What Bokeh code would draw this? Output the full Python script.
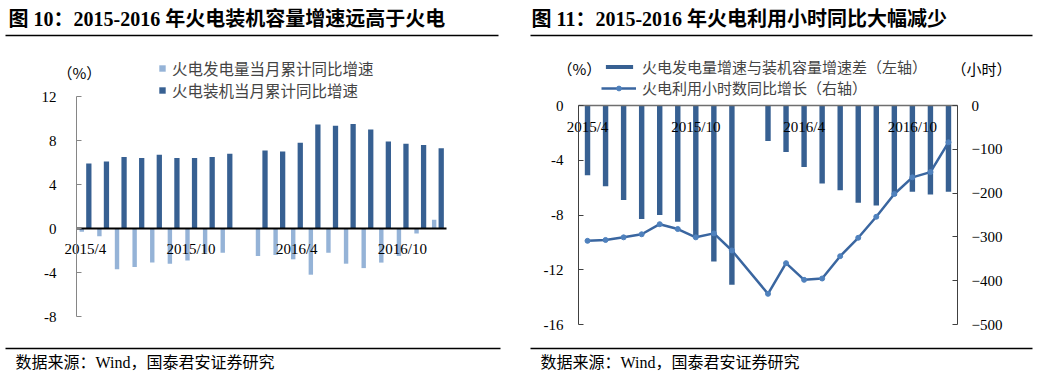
from bokeh.plotting import figure
from bokeh.layouts import row
from bokeh.models import (ColumnDataSource, Range1d, FixedTicker, LinearAxis, Label,
                          BoxAnnotation, Legend, LegendItem)
from bokeh.transform import dodge
from bokeh.embed import file_html
from bokeh.resources import INLINE

# ---------------- data ----------------
months = ["2015/4", "2015/5", "2015/6", "2015/7", "2015/8", "2015/9", "2015/10", "2015/11",
          "2015/12", "2016/1", "2016/2", "2016/3", "2016/4", "2016/5", "2016/6", "2016/7",
          "2016/8", "2016/9", "2016/10", "2016/11", "2016/12"]
tick_months = ["2015/4", "2015/10", "2016/4", "2016/10"]

# Chart 10 (%)
gen_growth = [-0.3, -0.7, -3.7, -3.5, -3.1, -3.2, -2.9, -2.2, -2.2, None, -2.5, -2.4, -2.8,
              -4.2, -2.2, -3.2, -3.6, -3.1, -2.5, -0.45, 0.8]
cap_growth = [5.9, 6.1, 6.5, 6.4, 6.7, 6.4, 6.4, 6.5, 6.8, None, 7.1, 7.0, 7.8, 9.45, 9.35,
              9.5, 9.0, 7.9, 7.7, 7.6, 7.3]

# Chart 11
gap_diff = [-5.1, -5.9, -6.9, -8.3, -8.0, -8.5, -9.6, -11.4, -13.1, None, -2.6, -3.4, -4.5,
            -5.7, -6.2, -7.1, -7.3, -6.6, -6.3, -6.5, -6.3]
hours = [-309, -307, -301, -294, -271, -282, -301, -292, -331, None, -430, -360, -398, -395,
         -344, -302, -254, -202, -164, -152, -84]

left_ticks = [-8, -4, 0, 4, 8, 12]
gap_ticks = [-16, -12, -8, -4, 0]
hour_ticks = [-500, -400, -300, -200, -100, 0]

# ---------------- styles ----------------
DARK = "#376092"
LIGHT = "#95B3D7"
LINE = "#3A66A0"
MARK = "#4F81BD"
NUM = "Liberation Serif"
CJK = "Noto Sans CJK SC"
MIX = "'Liberation Serif', 'Noto Sans CJK SC'"
H = 375

def nan(v):
    return float("nan") if v is None else v

n = len(months)
idx = list(range(n))
src = ColumnDataSource(dict(idx=idx,
                            gen=[nan(v) for v in gen_growth],
                            cap=[nan(v) for v in cap_growth],
                            diff=[nan(v) for v in gap_diff]))
line_src = ColumnDataSource(dict(idx=[i for i, v in zip(idx, hours) if v is not None],
                                 hours=[v for v in hours if v is not None]))
tick_idx = [months.index(m) for m in tick_months]
tick_over = {i: m for i, m in zip(tick_idx, tick_months)}
X0, X1 = -0.5, n - 0.5


def span_range(v0, v1, p0, p1, total):
    """Range so that value v0 sits at pixel p0 and v1 at pixel p1 (pixels from left/bottom)."""
    k = (v1 - v0) / (p1 - p0)
    return Range1d(v0 - p0 * k, v1 + (total - p1) * k)


def base_fig(width, xr, yr):
    p = figure(width=width, height=H, x_range=xr, y_range=yr,
               output_backend="svg", toolbar_location=None,
               min_border=0, min_border_left=0, min_border_right=0,
               min_border_top=0, min_border_bottom=0)
    p.outline_line_color = None
    p.xgrid.grid_line_color = None
    p.ygrid.grid_line_color = None
    p.background_fill_color = "white"
    p.border_fill_color = "white"
    return p


def style_axis(ax, ticks, color, loc, bounds, overrides, standoff):
    ax.fixed_location = loc
    ax.bounds = bounds
    ax.ticker = FixedTicker(ticks=ticks)
    ax.axis_line_color = color
    ax.axis_line_width = 1
    ax.major_tick_line_color = color
    ax.major_tick_in = 5
    ax.major_tick_out = 0
    ax.minor_tick_line_color = None
    ax.major_label_text_font = NUM
    ax.major_label_text_font_size = "15px"
    ax.major_label_text_color = "black"
    ax.major_label_standoff = standoff
    ax.major_label_overrides = overrides


def style_xaxis(ax, color, width, standoff):
    ax.fixed_location = 0
    ax.bounds = (X0, X1)
    ax.ticker = FixedTicker(ticks=tick_idx)
    ax.major_label_overrides = tick_over
    ax.axis_line_color = color
    ax.axis_line_width = width
    ax.major_tick_line_color = None
    ax.minor_tick_line_color = None
    ax.major_label_text_font = NUM
    ax.major_label_text_font_size = "15px"
    ax.major_label_text_color = "black"
    ax.major_label_standoff = standoff


def add_text(p, ox, cx, cy, text, font, size, bold=False, align="left"):
    p.add_layout(Label(x=cx - ox, y=H - cy, x_units="screen", y_units="screen", text=text,
                       text_font=font, text_font_size=size,
                       text_font_style="bold" if bold else "normal",
                       text_baseline="middle", text_align=align, text_color="black"))


def add_rule(p, ox, x1, x2, cy, h=1.5):
    p.add_layout(BoxAnnotation(left=x1 - ox, right=x2 - ox, top=H - cy + h / 2,
                               bottom=H - cy - h / 2, left_units="screen",
                               right_units="screen", top_units="screen",
                               bottom_units="screen", fill_color="black", fill_alpha=1,
                               line_color=None))


def make_legend(items, x, cy_bottom, gw, gh, size, lh=20):
    return Legend(items=items, location=(x, H - cy_bottom), orientation="vertical",
                  glyph_width=gw, glyph_height=gh, label_height=lh, spacing=0, padding=0,
                  margin=0, label_standoff=6, label_text_font=CJK, label_text_font_size=size,
                  border_line_color=None, background_fill_alpha=0)


# ---------------- chart 10 ----------------
W1 = 521
p1 = base_fig(W1, span_range(X0, X1, 76, 446, W1), span_range(-8, 12, H - 316, H - 96, H))
r_gen = p1.vbar(x=dodge("idx", -0.2), top="gen", width=0.25, source=src,
                fill_color=LIGHT, line_color=None)
r_cap = p1.vbar(x=dodge("idx", 0.2), top="cap", width=0.3, source=src,
                fill_color=DARK, line_color=None)
style_axis(p1.yaxis[0], left_ticks, "#868686", X0, (-8, 12),
           {t: str(t) for t in left_ticks}, 20)
style_xaxis(p1.xaxis[0], "black", 1.8, 6)

p1.add_layout(make_legend([LegendItem(label="火电发电量当月累计同比增速", renderers=[r_gen]),
                           LegendItem(label="火电装机当月累计同比增速", renderers=[r_cap])],
                          158, 101, 8, 8, "15.5px"), "center")

add_text(p1, 0, 8, 18, "图 10：2015-2016 年火电装机容量增速远高于火电", MIX, "20px", bold=True)
add_rule(p1, 0, 5, 498, 35)
add_text(p1, 0, 57, 72, "（%）", CJK, "15px")
add_rule(p1, 0, 5, 500, 348)
add_text(p1, 0, 15, 362, "数据来源：Wind，国泰君安证券研究", MIX, "16px")

# ---------------- chart 11 ----------------
OX = 521
W2 = 522
p2 = base_fig(W2, span_range(X0, X1, 578 - OX, 957 - OX, W2),
              span_range(-16, 0, H - 324, H - 105, H))
p2.extra_y_ranges = {"hours": span_range(-500, 0, H - 324, H - 105, H)}
r_diff = p2.vbar(x="idx", top=0, bottom="diff", width=0.3, source=src,
                 fill_color=DARK, line_color=None)
r_line = p2.line("idx", "hours", source=line_src, y_range_name="hours",
                 line_color=LINE, line_width=2.5)
r_pts = p2.scatter("idx", "hours", source=line_src, y_range_name="hours", size=5,
                   fill_color=MARK, line_color=MARK)

style_axis(p2.yaxis[0], gap_ticks, "#404040", X0, (-16, 0),
           {t: str(t) for t in gap_ticks}, 15)
rax = LinearAxis(y_range_name="hours")
p2.add_layout(rax, "right")
style_axis(rax, hour_ticks, "#404040", X1, (-500, 0),
           {t: ("0" if t == 0 else "\u2212" + str(-t)) for t in hour_ticks}, 14)
style_xaxis(p2.xaxis[0], "#6F6F6F", 1.3, 7)

p2.add_layout(make_legend([LegendItem(label="火电发电量增速与装机容量增速差（左轴）",
                                      renderers=[r_diff])],
                          602 - OX, 76.5, 34, 5, "15px", lh=18), "center")
p2.add_layout(make_legend([LegendItem(label="火电利用小时数同比增长（右轴）",
                                      renderers=[r_line, r_pts])],
                          601 - OX, 98, 35, 12, "15px", lh=18), "center")

add_text(p2, OX, 531, 18, "图 11：2015-2016 年火电利用小时同比大幅减少", MIX, "20px", bold=True)
add_rule(p2, OX, 530, 1032, 35)
add_text(p2, OX, 557, 68, "（%）", CJK, "15px")
add_text(p2, OX, 951, 68, "（小时）", CJK, "15px")
add_rule(p2, OX, 530, 1032, 348)
add_text(p2, OX, 540, 362, "数据来源：Wind，国泰君安证券研究", MIX, "16px")

layout = row(p1, p2, spacing=0)
open("out.html", "w").write(file_html(layout, INLINE))
